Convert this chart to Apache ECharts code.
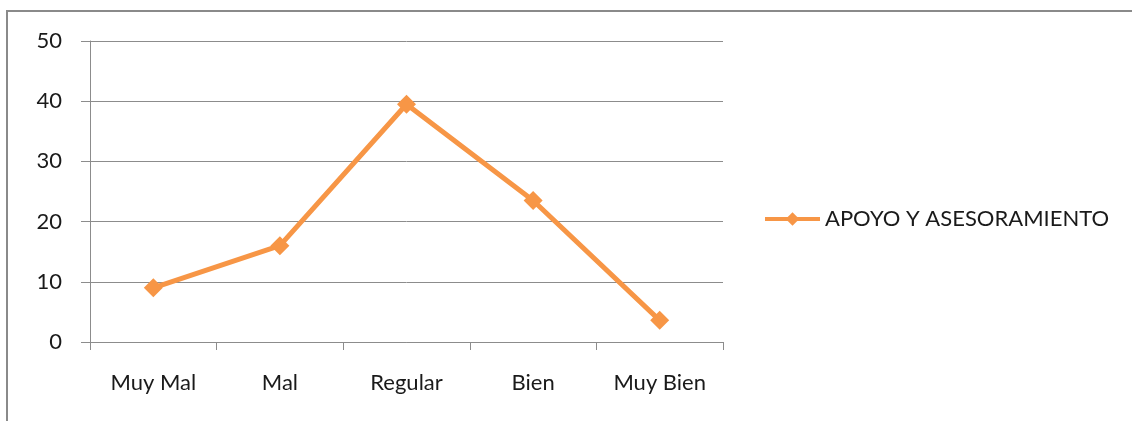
<!DOCTYPE html>
<html>
<head>
<meta charset="utf-8">
<script src="https://cdn.jsdelivr.net/npm/echarts@6/dist/echarts.min.js"></script>
<style>
  html, body { margin: 0; padding: 0; background: #fff; }
  #chart { width: 1132px; height: 421px; }
</style>
</head>
<body>
<div id="chart"></div>
<script>
const categories = ["Muy Mal", "Mal", "Regular", "Bien", "Muy Bien"];
const seriesName = "APOYO Y ASESORAMIENTO";
const values = [9, 16, 39.5, 23.5, 3.6];
const yTicks = [0, 10, 20, 30, 40, 50];

const chart = echarts.init(document.getElementById("chart"));
const font = "Lato, 'Open Sans', sans-serif";
const gray = "#8c8c8c";
const orange = "#F79646";

chart.setOption({
  animation: false,
  textStyle: { fontFamily: font },
  graphic: [
    {
      type: "polyline",
      shape: { points: [[7, 421], [7, 11], [1132, 11]] },
      style: { stroke: "#8a8a8a", lineWidth: 2, fill: null }
    }
  ],
  grid: { left: 90, right: 409, top: 41, bottom: 79 },
  legend: {
    data: [seriesName],
    left: 763,
    top: 208,
    padding: 0,
    itemWidth: 55,
    itemHeight: 17,
    itemGap: 5,
    lineStyle: { width: 4 },
    textStyle: { fontFamily: font, fontSize: 22, color: "#1a1a1a" }
  },
  xAxis: {
    type: "category",
    data: categories,
    boundaryGap: true,
    axisLine: { lineStyle: { color: gray, width: 1 } },
    axisTick: { show: true, length: 8, lineStyle: { color: gray } },
    axisLabel: { fontSize: 22, color: "#1a1a1a", margin: 30, fontFamily: font }
  },
  yAxis: {
    type: "value",
    min: yTicks[0],
    max: yTicks[yTicks.length - 1],
    interval: 10,
    axisLine: { show: true, lineStyle: { color: gray, width: 1 } },
    axisTick: { show: true, length: 9, lineStyle: { color: gray } },
    axisLabel: { fontSize: 22, color: "#1a1a1a", margin: 28, fontFamily: font },
    splitLine: { lineStyle: { color: gray, width: 1 } }
  },
  series: [
    {
      name: seriesName,
      type: "line",
      data: values,
      symbol: "diamond",
      symbolSize: 19,
      color: orange,
      lineStyle: { width: 5, color: orange },
      itemStyle: { color: orange }
    }
  ]
});
</script>
</body>
</html>
